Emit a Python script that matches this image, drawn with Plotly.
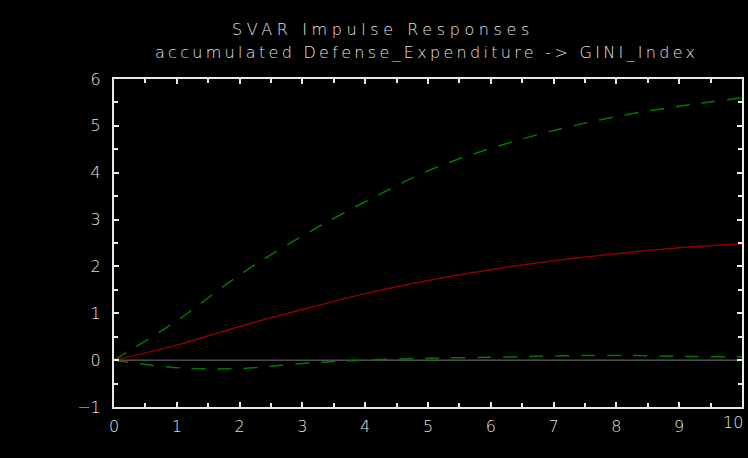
import plotly.graph_objects as go

horizon = [0, 1, 2, 3, 4, 5, 6, 7, 8, 9, 10]
response = [0.0, 0.32, 0.72, 1.08, 1.42, 1.70, 1.93, 2.12, 2.27, 2.40, 2.48]
upper_band = [0.0, 0.84, 1.82, 2.65, 3.38, 4.04, 4.52, 4.90, 5.20, 5.42, 5.60]
lower_band = [0.0, -0.16, -0.18, -0.07, 0.0, 0.04, 0.06, 0.09, 0.10, 0.08, 0.07]
x_ticks = [0, 1, 2, 3, 4, 5, 6, 7, 8, 9, 10]
y_ticks = [-1, 0, 1, 2, 3, 4, 5, 6]

title_text = "SVAR Impulse Responses"
subtitle_text = "accumulated Defense_Expenditure -> GINI_Index"

GREEN = "#007800"
RED = "#8c0000"
AXIS = "#e8e8e8"
TEXT = "#e0e0e0"
FONT = "DejaVu Sans"

W, H = 748, 458
ML, MR, MT, MB = 114, 4, 79, 51

fig = go.Figure()
fig.add_trace(go.Scatter(x=horizon, y=[0] * len(horizon), mode="lines",
                         line=dict(color="#7a7a7a", width=1), hoverinfo="skip"))
fig.add_trace(go.Scatter(x=horizon, y=upper_band, mode="lines", line_shape="spline",
                         line=dict(color=GREEN, width=1.5, dash="14px,12px")))
fig.add_trace(go.Scatter(x=horizon, y=lower_band, mode="lines", line_shape="spline",
                         line=dict(color=GREEN, width=1.5, dash="14px,12px")))
fig.add_trace(go.Scatter(x=horizon, y=response, mode="lines", line_shape="spline",
                         line=dict(color=RED, width=1.5)))

tick_font = dict(family=FONT, size=16, color=TEXT, weight=200)

axis_common = dict(
    showgrid=False, zeroline=False, showline=True, linecolor=AXIS, linewidth=2,
    mirror="ticks", ticks="inside", ticklen=5, tickwidth=1.5, tickcolor=AXIS,
    tickfont=tick_font,
    minor=dict(ticks="inside", ticklen=4, tickwidth=1.5, tickcolor=AXIS, dtick=0.5),
)


def px_x(v):
    return (v - ML) / (W - ML - MR)


def px_y(v):
    return (H - MB - v) / (H - MT - MB)


# Plotly drops a tick label that would overflow the page edge; draw the last one as text
last_x = x_ticks[-1]

fig.update_layout(
    width=W, height=H,
    paper_bgcolor="black", plot_bgcolor="black",
    margin=dict(l=ML, r=MR, t=MT, b=MB),
    showlegend=False,
    xaxis=dict(range=[0, 10], tickmode="array", tickvals=x_ticks,
               ticktext=[str(v) for v in x_ticks[:-1]] + [""],
               ticklabelstandoff=4, **axis_common),
    yaxis=dict(range=[-1, 6], tickmode="array", tickvals=y_ticks,
               ticklabelstandoff=8, **axis_common),
    annotations=[
        dict(text='<span style="letter-spacing:4.6px">' + title_text + '</span>',
             x=px_x(384), y=px_y(30), xref="paper", yref="paper",
             xanchor="center", yanchor="middle",
             showarrow=False, font=dict(family=FONT, size=16, color=TEXT, weight=200)),
        dict(text='<span style="letter-spacing:3.3px">' + subtitle_text + '</span>',
             x=px_x(427), y=px_y(53), xref="paper", yref="paper",
             xanchor="center", yanchor="middle",
             showarrow=False, font=dict(family=FONT, size=16, color=TEXT, weight=200)),
        dict(text=str(last_x), x=px_x(747), y=px_y(422), xref="paper", yref="paper",
             xanchor="right", yanchor="middle", showarrow=False, font=tick_font),
    ],
)

fig.write_html("out.html", config={"displayModeBar": False},
               post_script="document.body.style.margin='0';")
